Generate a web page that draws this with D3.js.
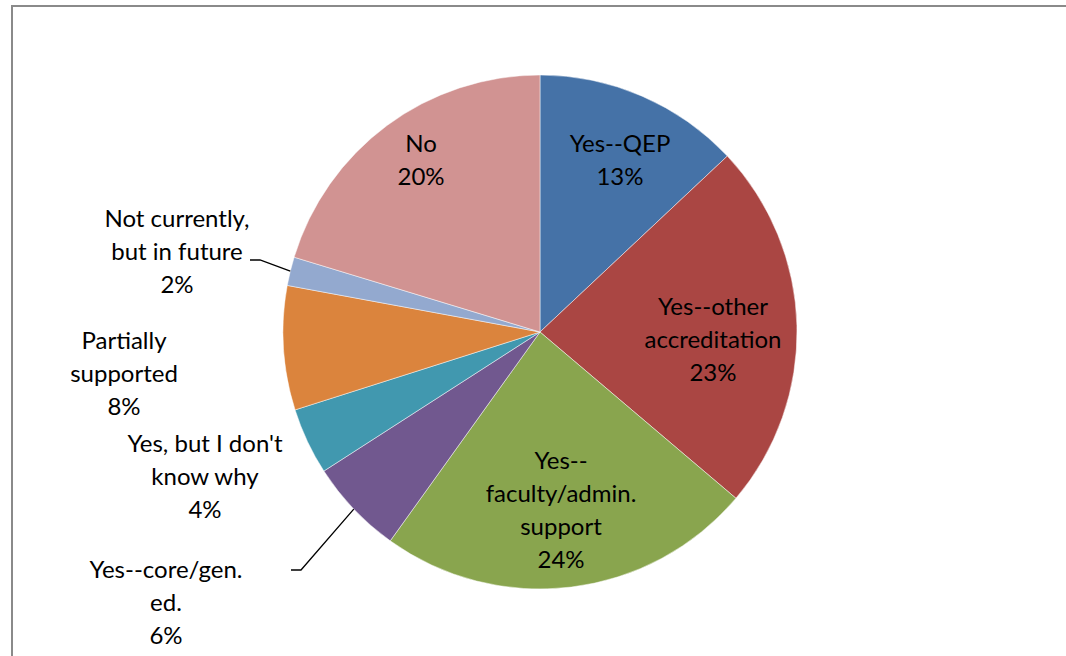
<!DOCTYPE html>
<html>
<head>
<meta charset="utf-8">
<script src="https://cdn.jsdelivr.net/npm/d3@7"></script>
<style>
  html, body { margin: 0; padding: 0; background: #fff; }
  svg { display: block; }
  text { font-family: Lato, "Open Sans", sans-serif; font-size: 24px; fill: #000; }
</style>
</head>
<body>
<svg id="chart" width="1066" height="656"></svg>
<script>
// Survey responses, clockwise from 12 o'clock
const categories = [
  "Yes--QEP",
  "Yes--other accreditation",
  "Yes--faculty/admin. support",
  "Yes--core/gen. ed.",
  "Yes, but I don't know why",
  "Partially supported",
  "Not currently, but in future",
  "No"
];
const shares = [13.0, 23.2, 23.7, 6.0, 4.2, 7.8, 1.8, 20.3];
const percentLabels = ["13%", "23%", "24%", "6%", "4%", "8%", "2%", "20%"];
// label text broken into lines as displayed
const labelLines = [
  ["Yes--QEP"],
  ["Yes--other", "accreditation"],
  ["Yes--", "faculty/admin.", "support"],
  ["Yes--core/gen.", "ed."],
  ["Yes, but I don't", "know why"],
  ["Partially", "supported"],
  ["Not currently,", "but in future"],
  ["No"]
];
const colors = ["#4572A7", "#AA4643", "#89A54E", "#71588F", "#4198AF", "#DB843D", "#93A9CF", "#D19392"];

// label anchor offsets from the pie centre (middle of the text block)
const labelOffsets = [
  [80, -172], [173, 8], [21, 178], [-374, 271],
  [-335, 145], [-416, 42], [-363, -80], [-119, -172]
];
// leader lines: slice index and where the line leaves its label box
const leaders = [
  { slice: 3, from: [-249, 238] },
  { slice: 6, from: [-290, -72] }
];

const svg = d3.select("#chart");
const W = 1066, H = 656;
const cx = 540, cy = 332, R = 257;
const lineH = 33;

// chart frame
svg.append("rect")
  .attr("x", 12).attr("y", 6)
  .attr("width", W + 10).attr("height", H + 10)
  .attr("fill", "none").attr("stroke", "#8a8a8a").attr("stroke-width", 2);

const pie = d3.pie().sort(null).value(d => d);
const arcs = pie(shares);
const arc = d3.arc().innerRadius(0).outerRadius(R);

const g = svg.append("g").attr("transform", `translate(${cx},${cy})`);

g.selectAll("path.slice")
  .data(arcs)
  .join("path")
  .attr("class", "slice")
  .attr("d", arc)
  .attr("fill", (d, i) => colors[i])
  .attr("stroke", "#fff")
  .attr("stroke-width", 0.8)
  .attr("stroke-opacity", 0.6);

// labels
g.selectAll("text.lbl")
  .data(arcs)
  .join("text")
  .attr("class", "lbl")
  .attr("text-anchor", "middle")
  .each(function(d, i) {
    const lines = labelLines[i].concat([percentLabels[i]]);
    const [ox, oy] = labelOffsets[i];
    const top = oy - (lines.length - 1) * lineH / 2;
    const t = d3.select(this);
    lines.forEach((ln, k) => {
      t.append("tspan")
        .attr("x", ox)
        .attr("y", top + k * lineH)
        .attr("dy", "0.35em")
        .text(ln);
    });
  });

// leader lines for the thin outside slices
leaders.forEach(({ slice, from }) => {
  const d = arcs[slice];
  const mid = (d.startAngle + d.endAngle) / 2;
  const ex = Math.sin(mid) * R, ey = -Math.cos(mid) * R;
  const [x0, y0] = from;
  g.append("polyline")
    .attr("points", [[x0, y0], [x0 + 10, y0], [ex, ey]].map(p => p.join(",")).join(" "))
    .attr("fill", "none")
    .attr("stroke", "#000")
    .attr("stroke-width", 1.3);
});
</script>
</body>
</html>
